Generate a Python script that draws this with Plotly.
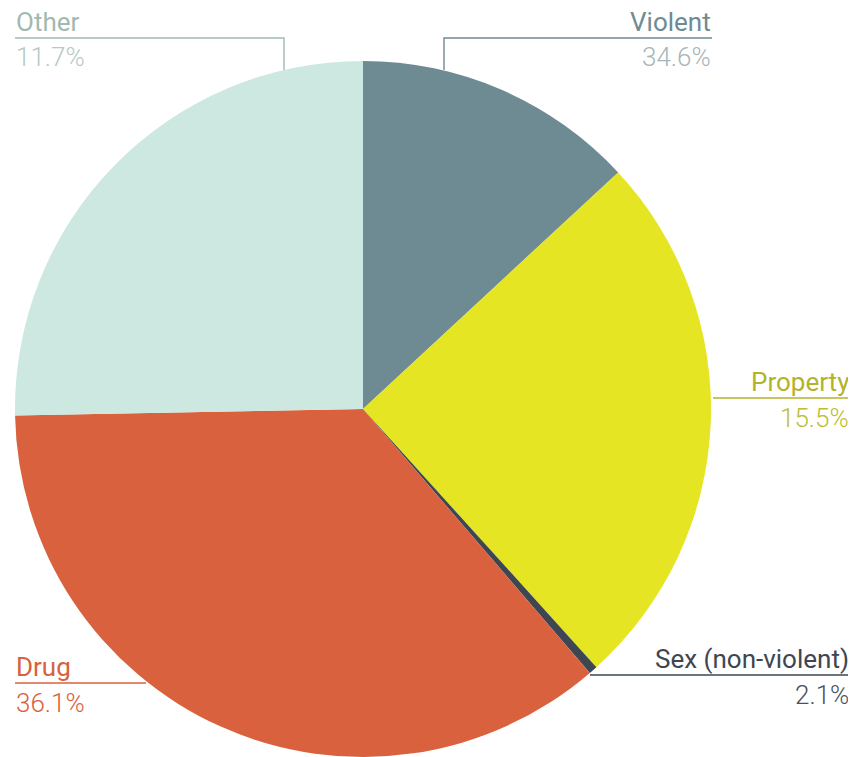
import plotly.graph_objects as go

# ---- data ----
categories = ["Violent", "Property", "Sex (non-violent)", "Drug", "Other"]
slice_values = [13.1, 25.2, 0.4, 36.0, 25.3]          # visible slice sizes
label_percents = ["34.6%", "15.5%", "2.1%", "36.1%", "11.7%"]  # printed labels
slice_colors = ["#6e8b93", "#e5e524", "#3d4651", "#d9613d", "#cde8e0"]
name_colors = ["#6e8b93", "#b3b32a", "#3d4651", "#d9613d", "#9fbab0"]
pct_colors = ["#a7b5b9", "#bdbd35", "#4a525c", "#d9613d", "#b6c9c2"]

OFF = 8  # page body margin
W, H = 856 - OFF, 757 - OFF
def px(x):
    return (x - OFF) / W
def py(y):
    return 1 - (y - OFF) / H

fig = go.Figure()
fig.add_trace(go.Pie(
    labels=categories,
    values=slice_values,
    sort=False,
    direction="clockwise",
    rotation=0,
    marker=dict(colors=slice_colors, line=dict(width=0)),
    textinfo="none",
    hoverinfo="label+percent",
    showlegend=False,
    domain=dict(x=[px(13), px(713)], y=[0, py(61)]),
))

# label layout: (name_x, line_y, anchor, leader path in pixels)
label_layout = [
    (712, 38, "right", [(444, 70), (444, 38), (712, 38)]),
    (850, 398, "right", [(713, 398), (850, 398)]),
    (850, 675, "right", [(590, 675), (850, 675)]),
    (15, 683, "left", [(15, 683), (146, 683)]),
    (15, 38, "left", [(15, 38), (284, 38), (284, 70)]),
]

FONT = "Roboto"
for i, (x, ly, anchor, path) in enumerate(label_layout):
    d = "M " + " L ".join(f"{px(a)},{py(b)}" for a, b in path)
    fig.add_shape(type="path", path=d, xref="paper", yref="paper",
                  line=dict(color=name_colors[i], width=1.4), layer="below")
    fig.add_annotation(x=px(x), y=py(ly - 0.5), xref="paper", yref="paper",
                       text=categories[i], showarrow=False, borderpad=0,
                       xanchor=anchor, yanchor="bottom",
                       font=dict(family=FONT, size=26, color=name_colors[i]))
    fig.add_annotation(x=px(x), y=py(ly + 3.5), xref="paper", yref="paper",
                       text=label_percents[i], showarrow=False, borderpad=0,
                       xanchor=anchor, yanchor="top",
                       font=dict(family=FONT, size=26, color=pct_colors[i], weight=300))

fig.update_layout(
    width=W, height=H,
    margin=dict(l=0, r=0, t=0, b=0),
    paper_bgcolor="white",
    plot_bgcolor="white",
)
fig.write_html("out.html")
